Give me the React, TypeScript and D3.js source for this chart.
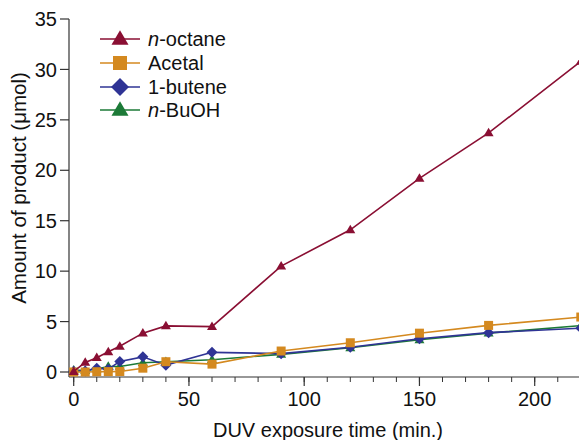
import React from "react";
import * as d3 from "d3";

const times = [0, 5, 10, 15, 20, 30, 40, 60, 90, 120, 150, 180, 220];
const octane = [0.05, 0.95, 1.42, 2.0, 2.55, 3.85, 4.57, 4.5, 10.5, 14.1, 19.2, 23.7, 30.8];
const acetal = [0.0, 0.0, 0.03, 0.04, 0.05, 0.38, 1.02, 0.78, 2.08, 2.9, 3.85, 4.62, 5.45];
const butene = [0.08, 0.1, 0.38, 0.27, 1.05, 1.5, 0.68, 1.95, 1.82, 2.45, 3.3, 3.9, 4.35];
const buoh = [0.2, 0.15, 0.3, 0.55, 0.55, 0.92, 1.02, 1.22, 1.75, 2.4, 3.2, 3.85, 4.6];

const yTicks = [0, 5, 10, 15, 20, 25, 30, 35];
const xMajor = [0, 50, 100, 150, 200];
const xMinor = d3.range(0, 220, 10);

type Shape = "triangle" | "square" | "diamond";

interface Series {
  name: string;
  italicPrefix: string;
  rest: string;
  values: number[];
  color: string;
  shape: Shape;
}

const seriesList: Series[] = [
  { name: "n-octane", italicPrefix: "n", rest: "-octane", values: octane, color: "#8a0f33", shape: "triangle" },
  { name: "Acetal", italicPrefix: "", rest: "Acetal", values: acetal, color: "#d4891f", shape: "square" },
  { name: "1-butene", italicPrefix: "", rest: "1-butene", values: butene, color: "#2f3495", shape: "diamond" },
  { name: "n-BuOH", italicPrefix: "n", rest: "-BuOH", values: buoh, color: "#1c7a37", shape: "triangle" },
];

function markerPath(shape: Shape, s: number): string {
  const h = s / 2;
  if (shape === "triangle") {
    const hh = s * 0.85;
    return `M0,${-hh * 0.6}L${h},${hh * 0.4}L${-h},${hh * 0.4}Z`;
  }
  if (shape === "square") {
    return `M${-h},${-h}H${h}V${h}H${-h}Z`;
  }
  return `M0,${-h}L${h},0L0,${h}L${-h},0Z`;
}

const plotSizes: Record<Shape, number> = { triangle: 10, square: 9, diamond: 11 };
const legendSizes: Record<Shape, number> = { triangle: 17, square: 14, diamond: 18 };

export default function App() {
  const W = 579;
  const H = 440;
  const x = d3.scaleLinear().domain([0, 200]).range([73.7, 534.7]);
  const y = d3.scaleLinear().domain([0, 35]).range([372, 19]);
  const axisY = 377;
  const axisX = 69;
  const font = "'Liberation Sans', Arial, Helvetica, sans-serif";
  const axisColor = "#333";

  const line = d3
    .line<number>()
    .x((_, i) => x(times[i]))
    .y((d) => y(d));

  const drawOrder = [3, 2, 1, 0];
  const legendRows = [39, 63, 87, 110];

  return (
    <svg
      width={W}
      height={H}
      style={{ position: "absolute", left: 0, top: 0, background: "#fff" }}
      fontFamily={font}
    >
      {/* y axis */}
      <line x1={axisX} x2={axisX} y1={y(35)} y2={axisY} stroke={axisColor} strokeWidth={1.2} />
      {yTicks.map((t) => (
        <g key={"y" + t}>
          <line x1={axisX - 9} x2={axisX} y1={y(t)} y2={y(t)} stroke={axisColor} strokeWidth={1.2} />
          <text x={57} y={y(t)} dy="0.36em" textAnchor="end" fontSize={20} fill="#111">
            {t}
          </text>
        </g>
      ))}
      {/* x axis */}
      <line x1={axisX} x2={W} y1={axisY} y2={axisY} stroke={axisColor} strokeWidth={1.2} />
      {xMinor.map((t) => (
        <line key={"xm" + t} x1={x(t)} x2={x(t)} y1={axisY} y2={axisY + 5} stroke={axisColor} strokeWidth={1} />
      ))}
      {xMajor.map((t) => (
        <g key={"x" + t}>
          <line x1={x(t)} x2={x(t)} y1={axisY} y2={axisY + 9} stroke={axisColor} strokeWidth={1.2} />
          <text x={x(t)} y={406} textAnchor="middle" fontSize={20} fill="#111">
            {t}
          </text>
        </g>
      ))}
      <text x={328} y={437} textAnchor="middle" fontSize={20} fill="#111">
        DUV exposure time (min.)
      </text>
      <text
        transform={`translate(26,188) rotate(-90)`}
        textAnchor="middle"
        fontSize={20.5}
        fill="#111"
      >
        Amount of product (μmol)
      </text>

      {/* series */}
      {drawOrder.map((si) => {
        const s = seriesList[si];
        return (
          <g key={s.name}>
            <path d={line(s.values) || ""} fill="none" stroke={s.color} strokeWidth={1.6} />
            {s.values.map((v, i) => (
              <path
                key={i}
                d={markerPath(s.shape, plotSizes[s.shape])}
                transform={`translate(${x(times[i])},${y(v)})`}
                fill={s.color}
              />
            ))}
          </g>
        );
      })}

      {/* legend */}
      {seriesList.map((s, i) => (
        <g key={"lg" + s.name} transform={`translate(0,${legendRows[i]})`}>
          <line x1={100} x2={140} y1={0} y2={0} stroke={s.color} strokeWidth={1.6} />
          <path d={markerPath(s.shape, legendSizes[s.shape])} transform="translate(120,0)" fill={s.color} />
          <text x={148} y={0} dy="0.36em" fontSize={20} fill="#111">
            {s.italicPrefix ? <tspan fontStyle="italic">{s.italicPrefix}</tspan> : null}
            {s.rest}
          </text>
        </g>
      ))}
    </svg>
  );
}
